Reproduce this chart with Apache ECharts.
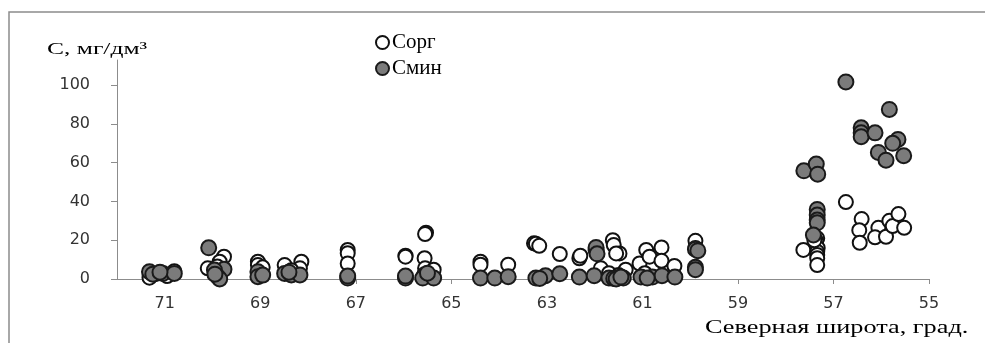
<!DOCTYPE html>
<html>
<head>
<meta charset="utf-8">
<script src="https://cdn.jsdelivr.net/npm/echarts@6/dist/echarts.min.js"></script>
<style>
  html, body { margin: 0; padding: 0; background: #fff; }
  #chart { width: 985px; height: 343px; }
</style>
</head>
<body>
<div id="chart"></div>
<script>
// Latitude (deg N) and concentration (mg/dm3) of organic carbon, Сорг
const orgLat = [
  71.32, 71.2, 70.8, 70.95,
  70.1, 69.76, 69.85, 69.9,
  69.05, 69.05, 68.95,
  68.49, 68.14, 68.17, 68.35,
  67.17, 67.17, 67.17,
  65.96, 65.96,
  65.53, 65.55, 65.56, 65.55, 65.37,
  64.39, 64.39, 63.81,
  63.27, 63.23, 63.16,
  62.73, 62.32, 62.3,
  61.62, 61.6, 61.48, 61.55, 61.87, 61.35, 61.7, 61.5,
  61.06, 60.92, 60.6, 60.85, 60.6, 60.33, 60.95,
  59.89, 59.89,
  57.63, 57.34, 57.36, 57.33, 57.34, 57.34, 57.34, 57.34, 57.4,
  56.74, 56.41, 56.46, 56.45, 56.06, 56.13, 55.9, 55.83, 55.76, 55.64, 55.52
];
const orgC = [
  0.7, 2.5, 4, 1.5,
  5.5, 11.5, 8.9, 6.5,
  8.9, 7.2, 6,
  7.2, 8.9, 5.5, 4.5,
  15, 13.3, 8,
  12, 11.5,
  23.9, 23.2, 10.7, 5.5, 4.8,
  8.9, 7.4, 7.4,
  18.4, 18.2, 17.1,
  12.9, 10.7, 12,
  20, 17.5, 13.2, 13.2, 5.5, 4.8, 3, 2,
  8, 15, 16.3, 11.5, 9.4, 6.7, 3,
  19.7, 16,
  15, 21, 19.7, 16, 14, 12.4, 10.7, 7.2, 20,
  39.7, 30.9, 25.2, 18.7, 26.4, 21.5, 21.8, 30, 27.3, 33.5, 26.4
];

// Latitude and concentration of mineral carbon, Смин
const minLat = [
  71.32, 71.25, 71.04, 70.8, 71.1,
  70.08, 69.76, 69.96, 69.89, 69.85, 69.95,
  69.05, 69.05, 68.95,
  68.49, 68.35, 68.17, 68.4,
  67.17, 67.17,
  65.96, 65.96,
  65.56, 65.6, 65.37, 65.5,
  64.39, 64.09, 63.81,
  63.23, 63.03, 63.15, 62.73,
  62.32, 62.01, 61.97, 61.97, 61.95,
  61.7, 61.6, 61.5, 61.55, 61.4, 61.45,
  61.03, 60.79, 60.59, 60.32, 60.9,
  59.89, 59.84, 59.89, 59.89,
  57.62, 57.36, 57.33, 57.34, 57.34, 57.34, 57.34, 57.42,
  56.74, 55.83, 56.42, 56.42, 56.42, 56.13, 55.65, 55.76, 56.06, 55.9, 55.53
];
const minC = [
  3.8, 2.5, 2.9, 2.9, 3.5,
  16.1, 5, 4.6, 1.2, 0, 2.5,
  3.8, 1.2, 2,
  2.9, 2.1, 2.1, 3.5,
  0.5, 1.5,
  0.5, 1.5,
  2.2, 0.5, 0.5, 3,
  0.5, 0.5, 1.2,
  0.5, 1.7, 0.3, 2.7,
  1, 1.7, 15, 16.3, 13,
  0.5, 0.3, 0.8, 0, 0.5, 1,
  1, 1, 1.7, 1, 0.5,
  15.3, 14.6, 6, 4.8,
  55.8, 59.3, 54.1, 35.9, 33, 30.4, 29, 22.7,
  101.7, 87.5, 78, 75.4, 73.4, 75.4, 72, 70, 65.3, 61.3, 63.6
];

const xTicks = [55, 57, 59, 61, 63, 65, 67, 69, 71];
const yTicks = [0, 20, 40, 60, 80, 100];

const seriesNames = ['Сорг', 'Смин'];
const yTitle = 'С, мг/дм³';
const xTitle = 'Северная широта, град.';

const pairs = (xs, ys) => xs.map((x, i) => [x, ys[i]]);

const serif = "'Liberation Serif', 'DejaVu Serif', serif";
const sans = "'DejaVu Sans', Verdana, sans-serif";

const chart = echarts.init(document.getElementById('chart'), null, { renderer: 'canvas' });

chart.setOption({
  animation: false,
  backgroundColor: '#fff',
  grid: { left: 117, right: 56, top: 60, bottom: 64, containLabel: false },
  legend: {
    orient: 'vertical',
    left: 370,
    top: 27,
    itemGap: 5,
    itemWidth: 13,
    itemHeight: 13,
    icon: 'circle',
    textStyle: { fontFamily: serif, fontSize: 21, color: '#000', padding: [0, 0, 0, -2] },
    data: seriesNames
  },
  xAxis: {
    type: 'value',
    inverse: true,
    min: 55,
    max: 72,
    splitLine: { show: false },
    axisLine: { lineStyle: { color: '#8c8c8c', width: 1 } },
    axisTick: { customValues: xTicks, length: 5, lineStyle: { color: '#8c8c8c' } },
    axisLabel: {
      customValues: xTicks,
      margin: 17,
      fontFamily: sans,
      fontSize: 16,
      color: '#333'
    }
  },
  yAxis: {
    type: 'value',
    min: 0,
    max: 113,
    splitLine: { show: false },
    axisLine: { show: true, lineStyle: { color: '#8c8c8c', width: 1 } },
    axisTick: { show: true, customValues: yTicks, length: 6, lineStyle: { color: '#8c8c8c' } },
    axisLabel: {
      customValues: yTicks,
      margin: 27,
      fontFamily: sans,
      fontSize: 16,
      color: '#333'
    }
  },
  graphic: [
    {
      type: 'rect',
      silent: true,
      shape: { x: 9, y: 12, width: 1000, height: 400 },
      style: { fill: 'none', stroke: '#8c8c8c', lineWidth: 1.5 }
    },
    {
      type: 'text',
      x: 47,
      y: 50,
      scaleX: 1.5,
      style: { text: yTitle, fontFamily: serif, fontSize: 17, fill: '#000', verticalAlign: 'middle' }
    },
    {
      type: 'text',
      x: 705,
      y: 328,
      scaleX: 1.46,
      style: { text: xTitle, fontFamily: serif, fontSize: 18, fill: '#000', verticalAlign: 'middle' }
    }
  ],
  series: [
    {
      name: seriesNames[0],
      type: 'scatter',
      symbol: 'circle',
      symbolSize: 14,
      itemStyle: { color: '#ffffff', borderColor: '#111', borderWidth: 2, opacity: 1 },
      data: pairs(orgLat, orgC)
    },
    {
      name: seriesNames[1],
      type: 'scatter',
      symbol: 'circle',
      symbolSize: 15,
      itemStyle: { color: '#7b7b7b', borderColor: '#1a1a1a', borderWidth: 2, opacity: 1 },
      data: pairs(minLat, minC)
    }
  ]
});
</script>
</body>
</html>
